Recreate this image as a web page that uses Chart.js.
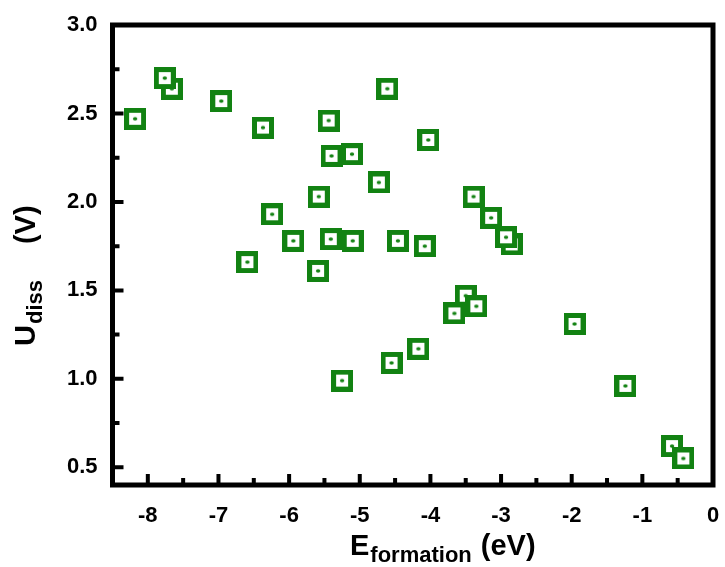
<!DOCTYPE html>
<html>
<head>
<meta charset="utf-8">
<script src="https://cdn.jsdelivr.net/npm/chart.js@4"></script>
<style>
  html, body { margin: 0; padding: 0; background: #fff; }
  #wrap { width: 725px; height: 567px; }
</style>
</head>
<body>
<div id="wrap"><canvas id="chart" width="725" height="567"></canvas></div>
<script>
(function () {
  'use strict';

  // Formation energy (eV) and dissolution potential (V) per material
  const eFormation = [-8.18, -7.66, -7.76, -6.96, -6.37, -6.24, -5.94, -6.59, -5.59,
    -5.58, -5.44, -5.40, -5.11, -4.61, -4.73, -4.03, -5.41, -5.10, -4.46, -4.08,
    -3.39, -3.14, -2.85, -2.93, -5.25, -4.55, -4.17, -3.50, -3.35, -3.66, -1.96,
    -1.24, -0.58, -0.42];
  const uDiss = [2.47, 2.64, 2.70, 2.57, 2.42, 1.93, 1.78, 1.66, 1.61,
    2.03, 2.46, 2.26, 2.27, 2.64, 2.11, 2.35, 1.79, 1.78, 1.78, 1.75,
    2.03, 1.91, 1.76, 1.80, 0.99, 1.09, 1.17, 1.47, 1.41, 1.37, 1.31,
    0.96, 0.62, 0.55];

  const xTicks = [-8, -7, -6, -5, -4, -3, -2, -1, 0];
  const xMinorTicks = [-7.5, -6.5, -5.5, -4.5, -3.5, -2.5, -1.5, -0.5];
  const yTicks = [0.5, 1.0, 1.5, 2.0, 2.5, 3.0];
  const yMinorTicks = [0.75, 1.25, 1.75, 2.25, 2.75];

  const GREEN = '#128212';
  const FONT = "'Liberation Sans', Arial, sans-serif";

  // Square marker with a dot in the middle
  function makeMarker() {
    const c = document.createElement('canvas');
    c.width = 22;
    c.height = 22;
    const g = c.getContext('2d');
    g.fillStyle = GREEN;
    g.fillRect(0, 0, 22, 22);
    g.fillStyle = '#fff';
    g.fillRect(5, 5, 12, 12);
    g.fillStyle = GREEN;
    g.beginPath();
    g.ellipse(11, 11, 2.2, 1.8, 0, 0, Math.PI * 2);
    g.fill();
    return c;
  }

  // draws main text + subscript + unit at the current origin
  function subTitle(ctx, main, sub, unit, gap) {
    let t = 0;
    ctx.font = 'bold 29px ' + FONT;
    ctx.fillText(main, t, 0);
    t += ctx.measureText(main).width + 1;
    ctx.font = 'bold 22px ' + FONT;
    ctx.fillText(sub, t, 7);
    t += ctx.measureText(sub).width + gap;
    ctx.font = 'bold 29px ' + FONT;
    ctx.fillText(unit, t, 0);
  }

  // Frame, inward ticks and axis titles with subscripts
  const framePlugin = {
    id: 'frame',
    afterDraw: function (chart) {
      const ctx = chart.ctx;
      const a = chart.chartArea;
      const xs = chart.scales.x;
      const ys = chart.scales.y;
      ctx.save();
      ctx.strokeStyle = '#000';
      ctx.lineWidth = 4;
      ctx.lineCap = 'butt';
      ctx.beginPath();
      xTicks.forEach(function (v) {
        const px = xs.getPixelForValue(v);
        ctx.moveTo(px, a.bottom); ctx.lineTo(px, a.bottom - 11);
      });
      xMinorTicks.forEach(function (v) {
        const px = xs.getPixelForValue(v);
        ctx.moveTo(px, a.bottom); ctx.lineTo(px, a.bottom - 7);
      });
      yTicks.forEach(function (v) {
        const py = ys.getPixelForValue(v);
        ctx.moveTo(a.left, py); ctx.lineTo(a.left + 11, py);
      });
      yMinorTicks.forEach(function (v) {
        const py = ys.getPixelForValue(v);
        ctx.moveTo(a.left, py); ctx.lineTo(a.left + 7, py);
      });
      ctx.stroke();

      ctx.lineWidth = 5;
      ctx.strokeRect(a.left, a.top, a.right - a.left, a.bottom - a.top);

      ctx.fillStyle = '#000';
      ctx.textBaseline = 'alphabetic';
      ctx.textAlign = 'left';

      ctx.save();
      ctx.translate(350, 555);
      subTitle(ctx, 'E', 'formation', '(eV)', 9);
      ctx.restore();

      ctx.save();
      ctx.translate(35, 346);
      ctx.rotate(-Math.PI / 2);
      subTitle(ctx, 'U', 'diss', '(V)', 36);
      ctx.restore();

      ctx.restore();
    }
  };

  const points = eFormation.map(function (e, i) {
    return { x: e, y: uDiss[i] };
  });

  new Chart(document.getElementById('chart').getContext('2d'), {
    type: 'scatter',
    data: {
      datasets: [{
        label: 'Udiss',
        data: points,
        pointStyle: makeMarker(),
        pointRadius: 11,
        pointHoverRadius: 11
      }]
    },
    options: {
      responsive: false,
      animation: false,
      layout: { padding: { top: 25, right: 9.5, left: 0, bottom: 0 } },
      plugins: {
        legend: { display: false },
        tooltip: { enabled: false }
      },
      scales: {
        x: {
          type: 'linear',
          min: -8.5,
          max: 0,
          grid: { display: false, drawTicks: false },
          border: { display: false },
          afterBuildTicks: function (s) {
            s.ticks = xTicks.map(function (v) { return { value: v }; });
          },
          afterFit: function (s) {
            s.height = 82;
            s.paddingLeft = 0;
            s.paddingRight = 0;
          },
          ticks: {
            autoSkip: false,
            maxRotation: 0,
            padding: 18,
            color: '#000',
            font: { family: FONT, size: 22, weight: 'bold' },
            callback: function (v) { return String(v); }
          }
        },
        y: {
          type: 'linear',
          min: 0.4,
          max: 3.0,
          grid: { display: false, drawTicks: false },
          border: { display: false },
          afterBuildTicks: function (s) {
            s.ticks = yTicks.map(function (v) { return { value: v }; });
          },
          afterFit: function (s) {
            s.width = 112.5;
            s.paddingTop = 0;
            s.paddingBottom = 0;
          },
          ticks: {
            autoSkip: false,
            padding: 15,
            color: '#000',
            font: { family: FONT, size: 22, weight: 'bold' },
            callback: function (v) { return Number(v).toFixed(1); }
          }
        }
      }
    },
    plugins: [framePlugin]
  });
})();
</script>
</body>
</html>
